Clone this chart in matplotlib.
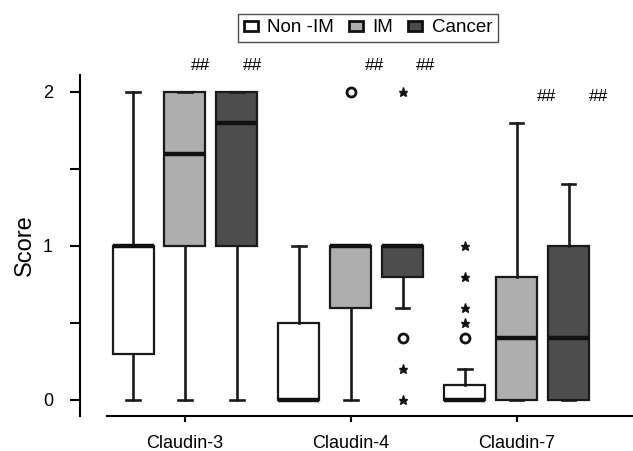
import matplotlib
matplotlib.use("Agg")
import matplotlib.pyplot as plt
from matplotlib.patches import Patch
from matplotlib.ticker import FixedLocator

plt.rcParams['font.family'] = ['Liberation Sans', 'DejaVu Sans']

groups = ["Claudin-3", "Claudin-4", "Claudin-7"]
series = ["Non -IM", "IM", "Cancer"]
colors = ["#ffffff", "#adaead", "#4d4d4d"]

# per series, per group (Claudin-3, Claudin-4, Claudin-7)
whislo = {"Non -IM": [0, 0, 0], "IM": [0, 0, 0], "Cancer": [0, 0.6, 0]}
q1 = {"Non -IM": [0.3, 0, 0], "IM": [1, 0.6, 0], "Cancer": [1, 0.8, 0]}
med = {"Non -IM": [1, 0, 0], "IM": [1.6, 1, 0.4], "Cancer": [1.8, 1, 0.4]}
q3 = {"Non -IM": [1, 0.5, 0.1], "IM": [2, 1, 0.8], "Cancer": [2, 1, 1.0]}
whishi = {"Non -IM": [2, 1, 0.2], "IM": [2, 1, 1.8], "Cancer": [2, 1, 1.4]}

# outliers (circles) and extremes (stars): (group index, series, value)
outliers = [(1, "IM", 2.0), (1, "Cancer", 0.4), (2, "Non -IM", 0.4)]
extremes = [(1, "Cancer", 2.0), (1, "Cancer", 0.2), (1, "Cancer", 0.0),
            (2, "Non -IM", 0.5), (2, "Non -IM", 0.6), (2, "Non -IM", 0.8),
            (2, "Non -IM", 1.0)]

# significance marks: (x position, y position)
sig_x = [0.096, 0.41, 1.145, 1.452, 2.18, 2.494]
sig_y = [2.17, 2.17, 2.17, 2.17, 1.97, 1.97]
sig_text = "##"

offset = 0.313
width = 0.247
edge = "#1a1a1a"

fig = plt.figure(figsize=(6.33, 4.51), dpi=100)
ax = fig.add_axes([107/633, 35/451, 1 - 107/633, (416 - 75)/451])

for sp in ['top', 'right']:
    ax.spines[sp].set_visible(False)
ax.spines['left'].set_position(('outward', 19.4))
ax.spines['left'].set_linewidth(1.5)
ax.spines['bottom'].set_linewidth(1.5)

for si, s in enumerate(series):
    stats = []
    pos = []
    for gi in range(len(groups)):
        stats.append(dict(whislo=whislo[s][gi], q1=q1[s][gi], med=med[s][gi],
                          q3=q3[s][gi], whishi=whishi[s][gi], fliers=[]))
        pos.append(gi + (si - 1) * offset)
    ax.bxp(stats, positions=pos, widths=width, patch_artist=True,
           showfliers=False, capwidths=0.08,
           boxprops=dict(facecolor=colors[si], edgecolor=edge, linewidth=1.6),
           medianprops=dict(color="#111111", linewidth=3.2, solid_capstyle='butt'),
           whiskerprops=dict(color=edge, linewidth=1.9),
           capprops=dict(color=edge, linewidth=1.9), zorder=2)

sidx = {s: i for i, s in enumerate(series)}
ox = [g + (sidx[s] - 1) * offset for g, s, v in outliers]
oy = [v for g, s, v in outliers]
ax.plot(ox, oy, 'o', ms=6.5, mfc='white', mec='#111111', mew=2.0, ls='none', zorder=3)
ex = [g + (sidx[s] - 1) * offset for g, s, v in extremes]
ey = [v for g, s, v in extremes]
ax.plot(ex, ey, '*', ms=6.5, color='#111111', ls='none', zorder=3)

for x, y in zip(sig_x, sig_y):
    ax.text(x, y, sig_text, ha='center', va='center', fontsize=12.5, clip_on=False)

ax.set_xlim(-0.47, 2.70)
ax.set_ylim(-0.104, 2.11)
ax.set_xticks(range(len(groups)))
ax.set_xticklabels(groups)
ax.set_yticks([0, 1, 2])
ax.set_yticklabels(["0", "1", "2"])
ax.yaxis.set_minor_locator(FixedLocator([0.5, 1.5]))
ax.tick_params(axis='y', which='both', direction='out', length=7.5, width=1.5,
               pad=12, labelsize=13)
ax.tick_params(axis='x', direction='out', length=4.5, width=1.5, pad=9,
               labelsize=13)
ax.set_ylabel("Score", fontsize=17, labelpad=5)

handles = [Patch(facecolor=c, edgecolor='#111111', linewidth=2) for c in colors]
leg = fig.legend(handles, series, loc='center', bbox_to_anchor=(368/633, 1 - 28/451),
                 ncol=3, fontsize=13.5, frameon=True, fancybox=False,
                 handlelength=0.75, handleheight=0.5, handletextpad=0.5,
                 columnspacing=0.8, borderpad=0.3, borderaxespad=0)
leg.get_frame().set_edgecolor('#222222')
leg.get_frame().set_linewidth(1.0)

fig.savefig("out.png", dpi=100)
